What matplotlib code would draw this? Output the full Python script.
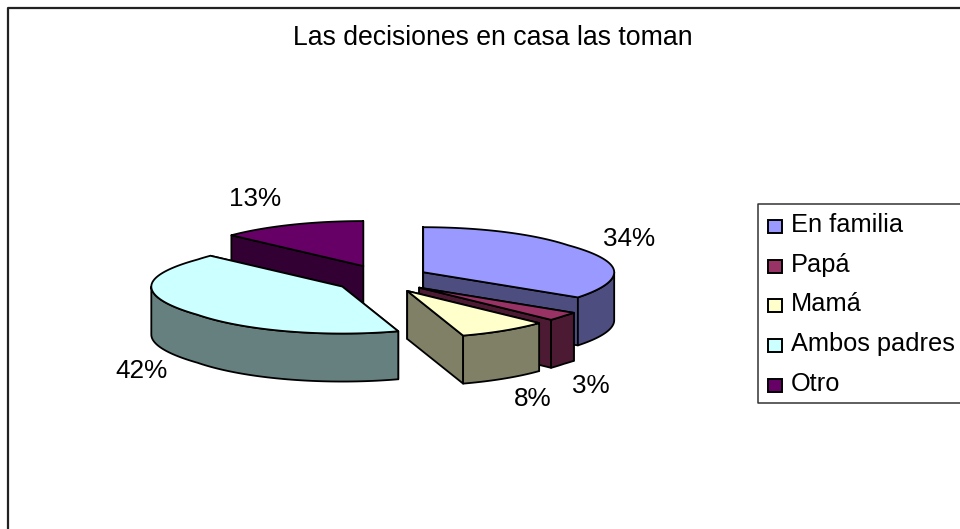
import numpy as np
import matplotlib
matplotlib.use("Agg")
import matplotlib.pyplot as plt
from matplotlib.patches import Polygon, Rectangle

plt.rcParams['font.family'] = ['Liberation Sans', 'DejaVu Sans']

title = "Las decisiones en casa las toman"
categories = ["En familia", "Papá", "Mamá", "Ambos padres", "Otro"]
values = [34, 3, 8, 42, 13]
colors = ["#9999FF", "#993366", "#FFFFCC", "#CCFFFF", "#660066"]
side_colors = ["#4D4D80", "#4D1A33", "#808066", "#668080", "#330033"]

# pie geometry in pixels
CX, CY = 382, 279
RX, RX_WIDE, RY_BACK, RY_FRONT = 181, 191, 45, 47
EXPLODE = 47
EXPLODE_RATIO = 0.3
DEPTH = 48
label_pos = [(629, 239), (591, 386), (533, 399), (141, 371), (255, 199)]
legend_y = [226, 266, 305, 345, 385]


def rim(theta, ax0, ay0):
    # theta in degrees, clockwise from the top
    t = np.radians(theta)
    c = np.cos(t)
    s = np.sin(t)
    ry = np.where(c > 0, RY_BACK, RY_FRONT)
    # the original rim bulges a bit at the far left and right
    rx = RX + (RX_WIDE - RX) * np.clip((np.abs(s) - 0.8) / 0.2, 0, 1)
    return ax0 + rx * s, ay0 - ry * c


def draw_wedge(ax, start, end, color, side, z):
    mid = np.radians((start + end) / 2)
    ax0 = CX + EXPLODE * np.sin(mid)
    ay0 = CY - EXPLODE * EXPLODE_RATIO * np.cos(mid)
    style = dict(edgecolor="black", linewidth=1.3, joinstyle="round")

    # the two radial walls, far one first
    walls = []
    for a in (start, end):
        x, y = rim(a, ax0, ay0)
        walls.append([(ax0, ay0), (x, y), (x, y + DEPTH), (ax0, ay0 + DEPTH)])
    walls.sort(key=lambda w: w[1][1])
    for w in walls:
        ax.add_patch(Polygon(w, facecolor=side, zorder=z, **style))

    # outer wall, only the part facing the viewer
    lo, hi = max(start, 90), min(end, 270)
    if hi > lo:
        th = np.linspace(lo, hi, 80)
        x, y = rim(th, ax0, ay0)
        pts = np.vstack([np.column_stack([x, y]),
                         np.column_stack([x[::-1], y[::-1] + DEPTH])])
        ax.add_patch(Polygon(pts, facecolor=side, zorder=z + 0.1, **style))

    th = np.linspace(start, end, 150)
    x, y = rim(th, ax0, ay0)
    pts = np.vstack([[(ax0, ay0)], np.column_stack([x, y])])
    ax.add_patch(Polygon(pts, facecolor=color, zorder=z + 0.2, **style))


fig = plt.figure(figsize=(9.6, 5.29), dpi=100)
ax = fig.add_axes([0, 0, 1, 1])
ax.set_xlim(0, 960)
ax.set_ylim(529, 0)
ax.axis("off")

# chart frame, runs off the right and bottom of the picture
ax.plot([8, 8, 965], [535, 8, 8], color="#222222", linewidth=1.6)

ax.text(493, 38, title, ha="center", va="center", fontsize=19.2)

edges = np.cumsum([0] + values) / sum(values) * 360
paint_order = [4, 3, 0, 1, 2]
for n, i in enumerate(paint_order):
    draw_wedge(ax, edges[i], edges[i + 1], colors[i], side_colors[i], 2 + n)

for v, (x, y) in zip(values, label_pos):
    ax.text(x, y, f"{v}%", ha="center", va="center", fontsize=18.8, zorder=10)

# legend
ax.plot([965, 758, 758, 965], [204, 204, 403, 403], color="#333333", linewidth=1.1)
for name, color, y in zip(categories, colors, legend_y):
    ax.add_patch(Rectangle((768, y - 6.5), 14, 13.5, facecolor=color,
                           edgecolor="black", linewidth=1.4))
    ax.text(791, y - 1, name, ha="left", va="center", fontsize=18.3)

fig.savefig("out.png", dpi=100)
